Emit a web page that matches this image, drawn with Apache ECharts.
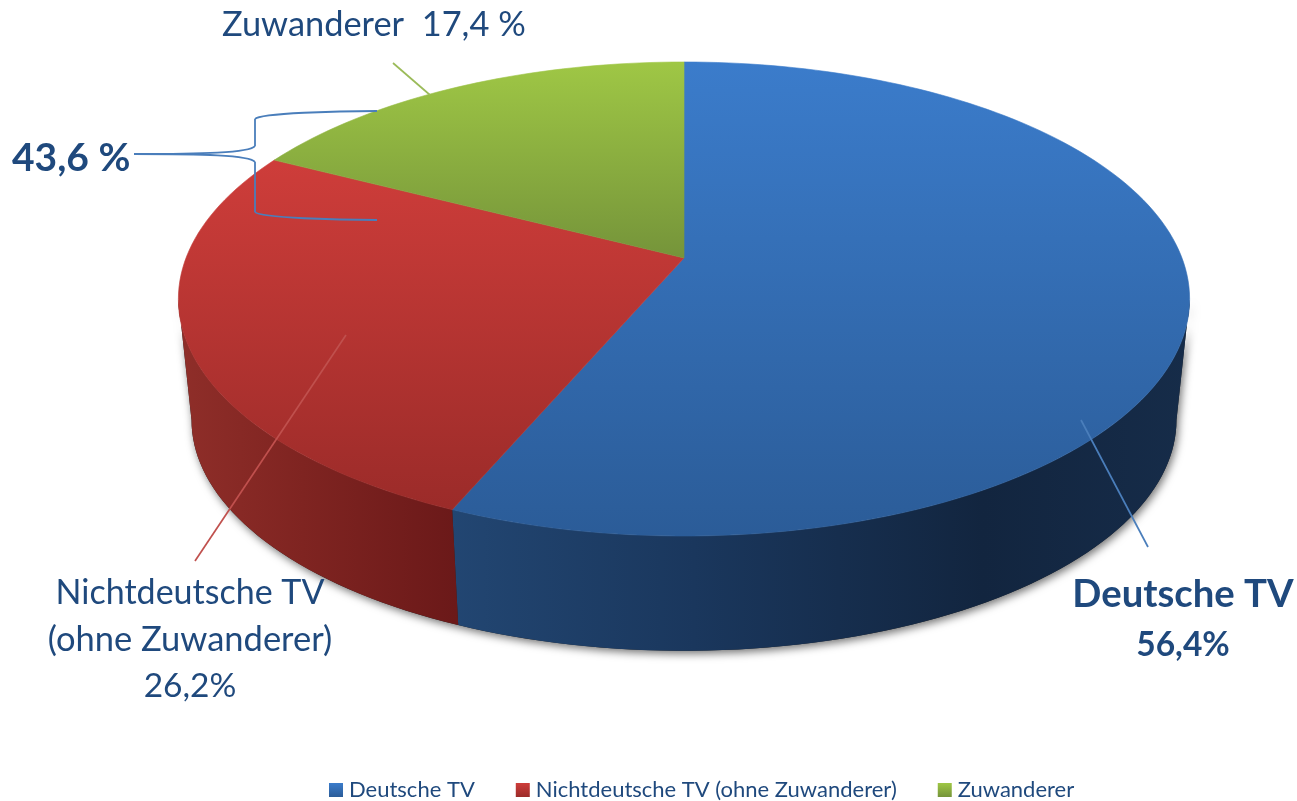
<!DOCTYPE html>
<html>
<head>
<meta charset="utf-8">
<style>html,body{margin:0;padding:0;background:#fff}#c{width:1297px;height:801px}</style>
<script src="https://cdn.jsdelivr.net/npm/echarts@6/dist/echarts.min.js"></script>
</head>
<body>
<div id="c"></div>
<script>
const categories = ['Deutsche TV', 'Nichtdeutsche TV (ohne Zuwanderer)', 'Zuwanderer'];
const shareValues = [56.4, 26.2, 17.4];
const bracketLabel = '43,6 %';
const labelBlue = ['Deutsche TV', '56,4%'];
const labelRed = ['Nichtdeutsche TV', '(ohne Zuwanderer)', '26,2%'];
const labelGreen = 'Zuwanderer  17,4 %';

const FONT = 'Lato, "Open Sans", sans-serif';
const INK = '#1f497d';
const topFill = [['#3b7ccb', '#2b5c98', 62, 536], ['#ce3d3a', '#9b2b29', 160, 510], ['#9fc745', '#75943a', 62, 258]];
const wallFill = [
  [[0, '#224672'], [0.33, '#1a375d'], [0.72, '#12253f'], [1, '#162c49']],
  [[0, '#8f2e29'], [0.45, '#7f2421'], [1, '#6b1919']]
];
const wallSpan = [[450, 1190], [178, 456]];
const legendFill = [['#3b7ccb', '#2b5c98'], ['#ce3d3a', '#9b2b29'], ['#9fc745', '#75943a']];

// Perspective projection of the pie disc
const CX = 684, APEX = 258, K = 498, A = 185.3, C = -0.173;
const SHRINK = 0.974, DEPTH = 122, SIL_A = 100, SIL_B = 260;
const total = shareValues.reduce((a, b) => a + b, 0);
function rimTop(deg) {
  const t = deg * Math.PI / 180, u = Math.sin(t), v = -Math.cos(t), d = 1 + C * v;
  return [CX + K * u / d, (APEX + A * v) / d];
}
function rimBottom(deg) {
  const p = rimTop(deg);
  return [CX + (p[0] - CX) * SHRINK, APEX + (p[1] - APEX) * SHRINK + DEPTH];
}
function arc(fn, a, b) {
  const pts = [], n = Math.max(2, Math.ceil(Math.abs(b - a) / 1.5));
  for (let i = 0; i <= n; i++) pts.push(fn(a + (b - a) * i / n));
  return pts;
}
function grad(x, y, x2, y2, stops) {
  return { type: 'linear', x, y, x2, y2, global: true, colorStops: stops.map(s => ({ offset: s[0], color: s[1] })) };
}
function wallPoints(a, b) {
  return arc(rimTop, a, b).concat(arc(rimBottom, a, b).reverse());
}
function renderSector(params, api) {
  const i = params.seriesIndex;
  let before = 0;
  for (let k = 0; k < i; k++) before += shareValues[k];
  const a = before / total * 360, b = (before + api.value(0)) / total * 360;
  const kids = [];
  if (i === 0) {
    kids.push({ type: 'polygon', z2: 0, shape: { points: wallPoints(SIL_A, SIL_B) },
      style: { fill: '#222', shadowBlur: 9, shadowColor: 'rgba(0,0,0,0.55)', shadowOffsetY: 3, shadowOffsetX: 2 } });
  }
  const wa = Math.max(a, SIL_A), wb = Math.min(b, SIL_B);
  if (wb > wa) {
    const sp = wallSpan[i];
    kids.push({ type: 'polygon', z2: 1, shape: { points: wallPoints(wa, wb) },
      style: { fill: grad(sp[0], 0, sp[1], 0, wallFill[i]) } });
  }
  const f = topFill[i];
  const g = grad(0, f[2], 0, f[3], [[0, f[0]], [1, f[1]]]);
  kids.push({ type: 'polygon', z2: 2 + i, shape: { points: [[CX, APEX]].concat(arc(rimTop, a, b)) },
    style: { fill: g, stroke: g, lineWidth: 0.6 } });
  return { type: 'group', children: kids };
}
function txt(text, x, y, size, weight, align) {
  return { type: 'text', z: 20, style: { text, x, y, fill: INK, font: (weight || 'normal') + ' ' + size + 'px ' + FONT, textAlign: align || 'center', textVerticalAlign: 'middle' } };
}
function seg(x1, y1, x2, y2, color, w) {
  return { type: 'line', z: 15, shape: { x1, y1, x2, y2 }, style: { stroke: color, lineWidth: w || 1.7 } };
}
function curve(x1, y1, cpx1, cpy1, cpx2, cpy2, x2, y2) {
  return { type: 'bezierCurve', z: 15, shape: { x1, y1, cpx1, cpy1, cpx2, cpy2, x2, y2 }, style: { fill: 'none', stroke: '#4a7ebb', lineWidth: 1.8 } };
}
const chart = echarts.init(document.getElementById('c'), null, { renderer: 'canvas' });
chart.setOption({
  animation: false,
  backgroundColor: '#ffffff',
  legend: {
    data: categories, left: 329, top: 779, padding: 0, itemWidth: 14, itemHeight: 14, itemGap: 41,
    icon: 'rect', textStyle: { color: INK, fontFamily: FONT, fontSize: 22, padding: [0, 0, 0, 1] }, selectedMode: false
  },
  series: categories.map((name, i) => ({
    type: 'custom', name, coordinateSystem: 'none', renderItem: renderSector, silent: true,
    itemStyle: { color: { type: 'linear', x: 0, y: 0, x2: 0, y2: 1, colorStops: [{ offset: 0, color: legendFill[i][0] }, { offset: 1, color: legendFill[i][1] }] } },
    data: [[shareValues[i]]]
  })),
  graphic: [
    seg(1081, 420, 1148, 547, '#4a7ebb'),
    seg(346, 335, 195, 561, '#c0504d'),
    seg(393, 63, 430, 95, '#9bbb59'),
    curve(134, 154, 200, 154, 250, 153, 255, 146),
    seg(255, 146, 255, 119, '#4a7ebb', 1.8),
    curve(255, 119, 260, 113, 340, 111, 377, 111),
    curve(134, 154, 200, 154, 250, 155, 255, 162),
    seg(255, 162, 255, 212, '#4a7ebb', 1.8),
    curve(255, 212, 260, 218, 340, 220, 377, 220),
    txt(labelGreen, 222, 25, 34.4, 'normal', 'left'),
    txt(bracketLabel, 12, 158, 39, 'bold', 'left'),
    txt(labelBlue[0], 1183, 595, 38.3, 'bold'),
    txt(labelBlue[1], 1183, 645, 33.5, 'bold'),
    txt(labelRed[0], 190, 593, 34),
    txt(labelRed[1], 190, 640, 34.5),
    txt(labelRed[2], 190, 686, 33.5)
  ]
});
</script>
</body>
</html>
